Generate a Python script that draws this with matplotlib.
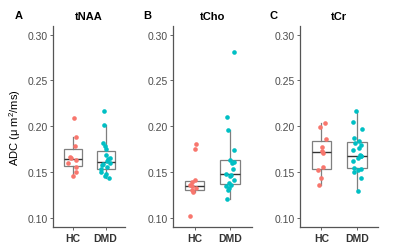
import numpy as np
import matplotlib
matplotlib.use("Agg")
import matplotlib.pyplot as plt

plt.rcParams['font.family'] = ['Liberation Sans', 'DejaVu Sans']
plt.rcParams['mathtext.fontset'] = 'custom'
plt.rcParams['mathtext.rm'] = 'Liberation Sans'

groups = ["HC", "DMD"]
colors = ["#F8766D", "#00BFC4"]
titles = ["tNAA", "tCho", "tCr"]
letters = ["A", "B", "C"]

# ADC values per metabolite
naa_hc = [0.209, 0.188, 0.178, 0.166, 0.165, 0.163, 0.160, 0.155, 0.150, 0.145]
naa_dmd = [0.217, 0.201, 0.182, 0.178, 0.175, 0.168, 0.165, 0.164, 0.162,
           0.160, 0.159, 0.157, 0.155, 0.153, 0.150, 0.148, 0.145, 0.143]
cho_hc = [0.181, 0.175, 0.141, 0.139, 0.136, 0.134, 0.132, 0.130, 0.128, 0.102]
cho_dmd = [0.281, 0.210, 0.196, 0.174, 0.163, 0.161, 0.160, 0.153, 0.148,
           0.147, 0.146, 0.141, 0.138, 0.136, 0.134, 0.132, 0.130, 0.120]
cr_hc = [0.203, 0.199, 0.186, 0.177, 0.173, 0.171, 0.155, 0.152, 0.143, 0.136]
cr_dmd = [0.217, 0.205, 0.197, 0.187, 0.184, 0.182, 0.179, 0.176, 0.174, 0.168,
          0.167, 0.167, 0.165, 0.162, 0.154, 0.153, 0.152, 0.150, 0.143, 0.129]

panels = [(naa_hc, naa_dmd), (cho_hc, cho_dmd), (cr_hc, cr_dmd)]
yticks = [0.10, 0.15, 0.20, 0.25, 0.30]

# axes rectangles in figure fraction
rects = [(0.133, 0.100, 0.180, 0.795),
         (0.433, 0.100, 0.196, 0.795),
         (0.750, 0.100, 0.196, 0.795)]

fig = plt.figure(figsize=(4.0, 2.53), dpi=100)
rng = np.random.default_rng(7)

for i, (data, rect) in enumerate(zip(panels, rects)):
    ax = fig.add_axes(rect)
    ax.boxplot(data, positions=[1, 2], widths=0.55, whis=1.5,
               showfliers=False, patch_artist=True,
               boxprops=dict(facecolor='white', edgecolor='#7f7f7f', linewidth=0.9),
               whiskerprops=dict(color='#7f7f7f', linewidth=0.9),
               capprops=dict(linewidth=0),
               medianprops=dict(color='#333333', linewidth=1.0))
    for k, vals in enumerate(data):
        xj = k + 1 + rng.uniform(-0.14, 0.14, len(vals))
        ax.scatter(xj, vals, s=11, color=colors[k], linewidths=0, zorder=3)

    ax.set_xlim(0.4, 2.6)
    ax.set_ylim(0.09, 0.31)
    ax.set_yticks(yticks)
    ax.set_yticklabels([f"{t:.2f}" for t in yticks])
    ax.set_xticks([1, 2])
    ax.set_xticklabels(groups, fontweight='bold')
    ax.tick_params(axis='y', labelsize=7.5, labelcolor='#4d4d4d', color='#4d4d4d',
                   length=2.5, width=0.6, pad=1.5)
    ax.tick_params(axis='x', labelsize=7.5, labelcolor='#333333', color='#4d4d4d',
                   length=2.5, width=0.6, pad=2)
    for s in ['top', 'right']:
        ax.spines[s].set_visible(False)
    for s in ['left', 'bottom']:
        ax.spines[s].set_color('#555555')
        ax.spines[s].set_linewidth(0.9)
    ax.set_title(titles[i], fontsize=8, fontweight='bold', pad=5)

    if i == 0:
        ax.set_ylabel("ADC (μ m$^2$/ms)", fontsize=8, labelpad=3)

for x, letter in zip([0.038, 0.358, 0.675], letters):
    fig.text(x, 0.935, letter, fontsize=8, fontweight='bold', va='center')

fig.savefig("out.png", dpi=100)
